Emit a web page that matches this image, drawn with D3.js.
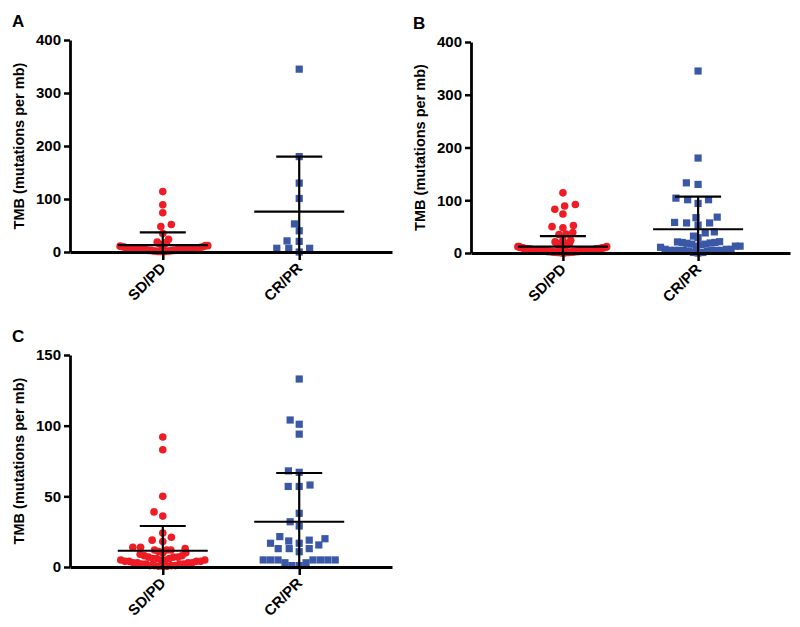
<!DOCTYPE html>
<html><head><meta charset="utf-8">
<script src="https://cdn.jsdelivr.net/npm/d3@7"></script>
<style>body{margin:0;background:#fff}svg{display:block}text{font-family:Arial,'Liberation Sans',sans-serif;font-weight:bold;fill:#000}</style>
</head><body><svg id="c" width="800" height="627"></svg>
<script>
const categories = ["SD/PD", "CR/PR"];
const yLabel = "TMB (mutations per mb)";
const panelLetters = ["A", "B", "C"];
const ticksAB = [0, 100, 200, 300, 400];
const ticksC = [0, 50, 100, 150];

// Panel A
const aSDPD = [114, 89, 74, 52, 48, 35, 24, 19, 18, 15, 14, 13, 12, 12, 11, 10, 10, 9, 9, 8, 8, 8, 7, 7, 7, 6, 6, 6, 6, 5, 5, 5, 5, 5, 4, 4, 4, 4, 3, 3, 3, 3, 2, 2, 2, 2, 1, 1, 1, 1];
const aCRPR = [345, 180, 130, 101, 53, 40, 21, 20, 7, 7, 7, 0];
const aMean = [13, 76];
const aUpper = [37, 180];

// Panel C
const cSDPD = [92, 83, 50, 39, 36, 24, 21, 19, 18, 14, 14, 13, 12, 12, 12, 11, 10, 10, 9, 8, 8, 7, 7, 7, 6, 6, 6, 5, 5, 5, 5, 4, 4, 4, 4, 3, 3, 3, 3, 2, 2, 2, 2, 1, 1, 1, 1, 0.5, 0.5, 0.5];
const cCRPR = [133, 104, 101, 94, 68, 67, 58, 57, 57, 38, 32, 29, 21.5, 20, 19, 18.4, 16.8, 16.8, 15.6, 13, 13, 13, 10.8, 5, 5, 5, 5, 5, 5, 5, 3, 3, 1, 1];
const cMean = [11.5, 32];
const cUpper = [29, 66.5];

// Panel B (both cohorts pooled)
const bSDPD = [114, 89, 74, 52, 48, 35, 24, 19, 18, 15, 14, 13, 12, 12, 11, 10, 10, 9, 9, 8, 8, 8, 7, 7, 7, 6, 6, 6, 6, 5, 5, 5, 5, 5, 4, 4, 4, 4, 3, 3, 3, 3, 2, 2, 2, 2, 1, 1, 1, 1,
               92, 83, 50, 39, 36, 24, 21, 19, 18, 14, 14, 13, 12, 12, 12, 11, 10, 10, 9, 8, 8, 7, 7, 7, 6, 6, 6, 5, 5, 5, 5, 4, 4, 4, 4, 3, 3, 3, 3, 2, 2, 2, 2, 1, 1, 1, 1, 0.5, 0.5, 0.5];
const bCRPR = [345, 180, 130, 101, 53, 40, 21, 20, 7, 7, 7, 0,
               133, 104, 101, 94, 68, 67, 58, 57, 57, 38, 32, 29, 21.5, 20, 19, 18.4, 16.8, 16.8, 15.6, 13, 13, 13, 10.8, 5, 5, 5, 5, 5, 5, 5, 3, 3, 1, 1];
const bMean = [12, 45];
const bUpper = [32, 107];

const RED = "#ee1c25", BLUE = "#3a58a6";
const svg = d3.select("#c");

// beeswarm with elliptical spacing (wider horizontally, like GraphPad rows)
function swarm(values, y, sx, sy, maxHalf) {
  const pts = values.map(v => ({v, y: y(v), x: 0})).sort((a, b) => a.v - b.v);
  const placed = [];
  const hit = (q, x, yy) => ((q.x - x) / sx) ** 2 + ((q.y - yy) / sy) ** 2 < 0.999;
  pts.forEach(p => {
    const cand = [0];
    placed.forEach(q => {
      const dy = Math.abs(p.y - q.y);
      if (dy < sy) { const dx = sx * Math.sqrt(1 - (dy / sy) ** 2); cand.push(q.x + dx, q.x - dx); }
    });
    cand.sort((a, b) => Math.abs(a) - Math.abs(b) || a - b);
    for (const c of cand) {
      if (!placed.some(q => hit(q, c, p.y))) { p.x = c; break; }
    }
    placed.push(p);
  });
  // local compression: squeeze crowded levels to the allowed half-width
  const f = placed.map(p => {
    const m = d3.max(placed.filter(q => Math.abs(q.y - p.y) <= sy * 1.5), q => Math.abs(q.x));
    return m > maxHalf ? maxHalf / m : 1;
  });
  placed.forEach((p, i) => p.x *= f[i]);
  return placed;
}

function panel(cfg) {
  const g = svg.append("g");
  const y = d3.scaleLinear().domain([0, cfg.ticks[cfg.ticks.length - 1]]).range([cfg.y0, cfg.yTop]);
  const x = d3.scalePoint().domain(categories).range([cfg.x0, cfg.x1]).padding(0.68);

  [cfg.sd, cfg.cr].forEach((vals, i) => {
    const pts = swarm(vals, y, cfg.sx[i], cfg.sy[i], cfg.maxHalf[i]);
    const cx = x(categories[i]);
    if (i === 0) {
      g.selectAll(null).data(pts).join("circle")
        .attr("cx", d => cx + d.x).attr("cy", d => d.y).attr("r", 3.8).attr("fill", RED);
    } else {
      g.selectAll(null).data(pts).join("rect")
        .attr("x", d => cx + d.x - 3.6).attr("y", d => d.y - 3.6)
        .attr("width", 7.2).attr("height", 7.2).attr("fill", BLUE);
    }
  });

  categories.forEach((c, i) => {
    const cx = x(c);
    const eg = g.append("g").attr("stroke", "#000").attr("stroke-width", 2.2);
    eg.append("line").attr("x1", cx).attr("x2", cx).attr("y1", y(0)).attr("y2", y(cfg.upper[i]));
    eg.append("line").attr("x1", cx - 45).attr("x2", cx + 45).attr("y1", y(cfg.mean[i])).attr("y2", y(cfg.mean[i]));
    eg.append("line").attr("x1", cx - 23).attr("x2", cx + 23).attr("y1", y(cfg.upper[i])).attr("y2", y(cfg.upper[i]));
  });

  const ya = g.append("g").attr("transform", `translate(${cfg.x0},0)`)
    .call(d3.axisLeft(y).tickValues(cfg.ticks).tickSize(6).tickSizeOuter(0).tickPadding(3));
  ya.select(".domain").attr("stroke-width", 2.8);
  ya.selectAll(".tick line").attr("stroke-width", 2.5);
  ya.selectAll(".tick text").style("font-size", "15px").style("font-weight", "bold")
    .style("font-family", "Arial,'Liberation Sans',sans-serif");

  const xa = g.append("g").attr("transform", `translate(0,${cfg.y0})`)
    .call(d3.axisBottom(x).tickSize(8).tickSizeOuter(0).tickFormat(""));
  xa.select(".domain").attr("stroke-width", 3);
  xa.selectAll(".tick line").attr("stroke-width", 2.5);
  categories.forEach(c => {
    g.append("text").attr("text-anchor", "end")
      .attr("transform", `translate(${x(c) + 4},${cfg.y0 + 17}) rotate(-45)`)
      .style("font-size", "15px").text(c);
  });

  g.append("text").attr("text-anchor", "middle")
    .attr("transform", `translate(${cfg.x0 - 46},${(cfg.y0 + cfg.yTop) / 2}) rotate(-90)`)
    .style("font-size", "14.5px").text(yLabel);

  g.append("text").attr("x", cfg.x0 - 58).attr("y", cfg.yTop - 13).style("font-size", "17px").text(cfg.letter);
}

panel({letter: panelLetters[0], x0: 70, x1: 392, y0: 252, yTop: 40, ticks: ticksAB,
  sd: aSDPD, cr: aCRPR, mean: aMean, upper: aUpper, sx: [11, 12], sy: [7, 7.5], maxHalf: [45, 34]});
panel({letter: panelLetters[1], x0: 471, x1: 790, y0: 253, yTop: 42, ticks: ticksAB,
  sd: bSDPD, cr: bCRPR, mean: bMean, upper: bUpper, sx: [11, 12], sy: [7, 7.5], maxHalf: [45, 42]});
panel({letter: panelLetters[2], x0: 70, x1: 392, y0: 567, yTop: 355, ticks: ticksC,
  sd: cSDPD, cr: cCRPR, mean: cMean, upper: cUpper, sx: [11, 11], sy: [7, 7.5], maxHalf: [42, 36]});
</script></body></html>
